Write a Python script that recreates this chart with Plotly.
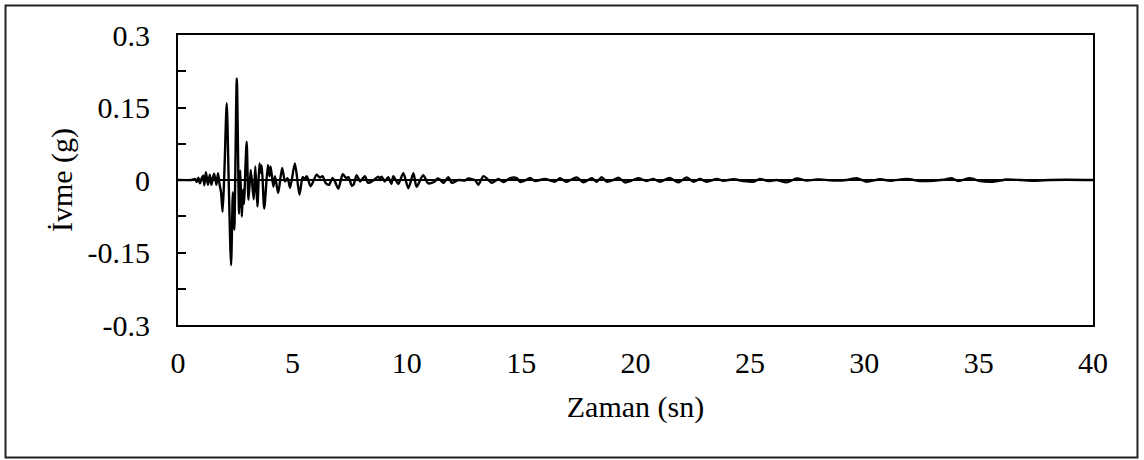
import plotly.graph_objects as go

# Time (s)
time_s = [
    0.0, 0.6, 0.75, 0.82, 0.89, 0.96, 1.03, 1.1, 1.15, 1.22, 1.31, 1.39, 1.46, 1.52,
    1.58, 1.68, 1.75, 1.82, 1.88, 1.95, 2.03, 2.13, 2.22, 2.32, 2.40, 2.46, 2.57,
    2.67, 2.72, 2.79, 2.84, 2.88, 3.00, 3.08, 3.18, 3.31, 3.38, 3.47, 3.56, 3.61,
    3.66, 3.77, 3.93, 4.0, 4.05, 4.17, 4.24, 4.38, 4.55, 4.68, 4.79, 4.9, 5.11,
    5.31, 5.45, 5.55, 5.63, 5.8, 6.06, 6.2, 6.32, 6.45, 6.6, 6.75, 6.85, 7.01, 7.2,
    7.35, 7.45, 7.6, 7.67, 7.81, 7.96, 8.17, 8.31, 8.53, 8.75, 8.82, 8.9, 9.04,
    9.19, 9.33, 9.41, 9.63, 9.85, 10.07, 10.29, 10.43, 10.72, 10.94, 11.23, 11.34,
    11.45, 11.6, 11.82, 11.97, 12.26, 12.55, 12.7, 13.0, 13.13, 13.35, 13.57, 13.72,
    14.01, 14.23, 14.52, 14.81, 14.96, 15.18, 15.39, 15.61, 16.04, 16.48, 16.7,
    16.99, 17.43, 17.72, 18.09, 18.3, 18.52, 18.74, 19.03, 19.25, 19.54, 19.83,
    20.12, 20.49, 20.78, 21.07, 21.5, 21.87, 22.24, 22.53, 22.82, 23.11, 23.55,
    23.84, 24.28, 24.71, 25.15, 25.44, 25.81, 26.17, 26.6, 27.05, 27.48, 27.92,
    28.07, 28.65, 29.23, 29.67, 30.1, 30.69, 31.13, 31.86, 32.44, 33.02, 33.46,
    33.82, 34.11, 34.62, 35.06, 35.64, 36.23, 36.81, 37.39, 38.12, 38.85, 40.0,
]

# Acceleration (g)
accel_g = [
    0.0, 0.0, 0.002, -0.004, 0.005, -0.007, 0.003, 0.009, -0.011, 0.016, -0.010, 0.011,
    -0.010, 0.004, 0.013, -0.010, 0.014, -0.010, -0.025, -0.066, 0.020, 0.159, -0.010,
    -0.176, -0.025, -0.103, 0.210, -0.070, 0.020, -0.076, -0.020, -0.050, 0.079,
    -0.041, 0.021, -0.040, 0.028, -0.055, 0.034, 0.015, 0.030, -0.059, 0.031, 0.008,
    0.028, -0.014, 0.008, -0.027, 0.025, -0.003, 0.004, -0.016, 0.034, -0.030, 0.006,
    0.002, 0.008, -0.013, 0.011, 0.005, 0.008, -0.006, -0.010, 0.004, -0.002, -0.018,
    0.012, 0.004, 0.006, -0.012, -0.010, 0.010, -0.003, 0.008, -0.006, -0.001, 0.007,
    0.003, 0.007, -0.003, 0.006, -0.008, 0.008, -0.008, 0.014, -0.017, 0.014, -0.014,
    0.010, -0.007, -0.003, 0.003, 0.001, -0.006, 0.006, -0.006, 0.0, -0.001, 0.003,
    -0.001, -0.010, 0.008, 0.0, -0.006, 0.002, -0.004, 0.004, 0.004, -0.004, -0.001,
    0.004, -0.002, 0.002, -0.0035, 0.0035, -0.0035, 0.0055, -0.005, 0.0035, -0.0035,
    0.006, -0.0035, 0.0, 0.005, -0.005, -0.001, 0.0035, -0.002, 0.002, -0.0035, 0.004,
    -0.005, 0.0055, -0.0035, 0.002, -0.0035, 0.002, -0.0015, 0.0015, -0.002, -0.0035,
    0.002, -0.002, 0.0, -0.005, 0.003, -0.001, 0.001, 0.001, -0.001, 0.0, 0.0035,
    -0.0035, 0.0015, -0.0015, 0.002, -0.002, -0.0015, 0.0005, 0.0035, -0.002, 0.0035,
    -0.002, -0.0035, 0.001, 0.0, -0.0015, 0.0, 0.0005, 0.0,
]

x_tick_vals = [0, 5, 10, 15, 20, 25, 30, 35, 40]
x_tick_text = ["0", "5", "10", "15", "20", "25", "30", "35", "40"]
y_tick_vals = [0.3, 0.15, 0, -0.15, -0.3]
y_tick_text = ["0.3", "0.15", "0", "-0.15", "-0.3"]

x_title = "Zaman (sn)"
y_title = "İvme (g)"

FONT = "Liberation Serif, Times New Roman, serif"
FS = 30

fig = go.Figure()
fig.add_trace(go.Scatter(
    x=time_s, y=accel_g, mode="lines",
    line=dict(color="black", width=2.4, shape="spline", smoothing=0.7),
    hoverinfo="x+y", showlegend=False,
))

fig.update_layout(
    width=1144, height=460,
    margin=dict(l=178, r=51, t=35, b=135),
    paper_bgcolor="white", plot_bgcolor="white",
    font=dict(family=FONT, size=FS, color="black"),
    showlegend=False,
    shapes=[dict(
        type="rect", xref="paper", yref="paper",
        x0=-0.1885, x1=1.0486, y0=-0.4569, y1=1.1017,
        line=dict(color="#222222", width=2), fillcolor="rgba(0,0,0,0)",
        layer="below",
    )],
)

fig.update_xaxes(
    range=[0, 40], tickmode="array", tickvals=x_tick_vals, ticktext=x_tick_text,
    showgrid=False, zeroline=False, ticks="", showline=True, mirror=True,
    linecolor="black", linewidth=2, ticklabelstandoff=10,
    title=dict(text=x_title, standoff=18, font=dict(family=FONT, size=FS)),
    tickfont=dict(family=FONT, size=FS),
)
fig.update_yaxes(
    range=[-0.3, 0.3], tickmode="array", tickvals=y_tick_vals, ticktext=y_tick_text,
    showgrid=False, zeroline=True, zerolinecolor="black", zerolinewidth=1.5,
    ticks="inside", ticklen=8, tickwidth=1.5, tickcolor="black",
    minor=dict(tickvals=[0.225, 0.075, -0.075, -0.225], ticks="inside", ticklen=8,
               tickwidth=1.5, tickcolor="black"),
    showline=True, mirror=True, linecolor="black", linewidth=2,
    ticklabelstandoff=20,
    title=dict(text=y_title, standoff=6, font=dict(family=FONT, size=FS)),
    tickfont=dict(family=FONT, size=FS),
)

fig.write_html("out.html", config={"displayModeBar": False},
               post_script="document.body.style.margin='0';")
